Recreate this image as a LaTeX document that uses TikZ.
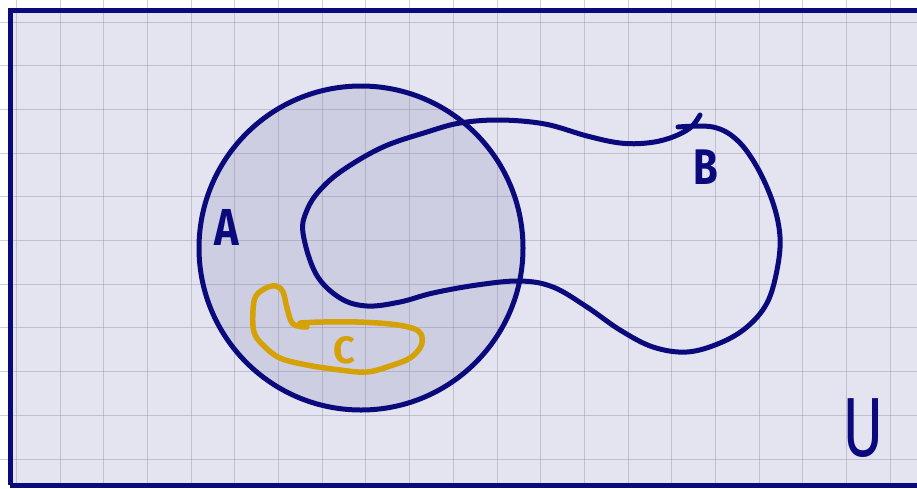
\documentclass[tikz,border=0pt]{standalone}
\usepackage{fontspec}
\newfontfamily\handfont{Fira Sans}
\usetikzlibrary{positioning}
\definecolor{navyline}{HTML}{0A0A7C}
\definecolor{universebg}{HTML}{E4E4F0}
\definecolor{setAbg}{HTML}{CDCEE2}
\definecolor{gridgray}{HTML}{8A8AA0}
\definecolor{setCline}{HTML}{D4A106}

\begin{document}
\begin{tikzpicture}[
    x=1pt, y=-1pt,
    gridline/.style={draw=gridgray, line width=1pt, opacity=0.4},
    setborder/.style={draw=navyline, line width=5pt},
    setcurve/.style={
        draw=navyline, line width=5pt,
        line cap=round, line join=round
    },
    ccurve/.style={
        draw=setCline, line width=5.5pt,
        line cap=round, line join=round
    },
    setlabel/.style={
        font=\handfont\bfseries, text=navyline, inner sep=0pt
    },
]
\useasboundingbox (0,0) rectangle (917,488);
\clip (0,0) rectangle (917,488);

% ===== Universe and set A fills =====
\fill[universebg] (10,10) rectangle (930,485);
\node[circle, fill=setAbg, minimum size=324pt, inner sep=0pt] (setA) at (361,248) {};

% ===== Grid =====
\foreach \k in {0,...,20}
    \draw[gridline] ({16.3+43.7*\k},0) -- ({16.3+43.7*\k},488);
\foreach \k in {0,...,10}
    \draw[gridline] (0,{22+43.7*\k}) -- (917,{22+43.7*\k});

% ===== Outlines =====
\draw[setborder] (10,485) -- (10,10) -- (930,10);
\draw[setborder] (10,485) -- (930,485);
\draw[setborder] (setA.center) circle[radius=162];

% set B
\draw[setcurve] plot[smooth, tension=0.6] coordinates {
    (678,127) (713,127) (737,140) (757,167) (773,203) (780,237)
    (777,270) (767,303) (747,327) (720,343) (687,352) (653,347)
    (620,330) (587,307) (553,287) (520,281) (477,285) (433,293)
    (400,302) (367,306) (340,298) (316,274) (303,233) (307,210)
    (320,190) (343,170) (383,147) (427,132) (460,123) (500,120)
    (545,124) (587,136) (620,143) (647,143) (670,138)
    (690,128) (700,115)};

% set C
\draw[ccurve] plot[smooth, tension=0.6] coordinates {
    (307,327) (293,324) (287,308) (283,292) (276,286) (266,288)
    (256,296) (253,310) (254,332) (263,345) (280,358) (307,365)
    (340,370) (367,372) (390,366) (410,358) (421,346) (421,334)
    (412,328) (390,324) (357,322) (323,322) (300,323)};

% ===== Labels =====
\node[setlabel, font=\handfont\bfseries\fontsize{52}{52}\selectfont, xscale=0.8] (labelA) at (227,227) {A};
\node[setlabel, font=\handfont\bfseries\fontsize{50}{50}\selectfont, xscale=0.8] (labelB) at (706,167) {B};
\node[setlabel, text=setCline, font=\handfont\bfseries\fontsize{38}{38}\selectfont] (labelC) at (344,350) {C};
\node[setlabel, font=\handfont\fontsize{84}{84}\selectfont, xscale=0.75] (labelU) at (863,428) {U};

\end{tikzpicture}
\end{document}
